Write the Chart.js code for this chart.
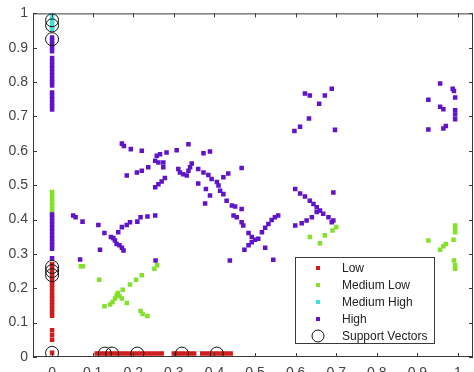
<!DOCTYPE html>
<html>
<head>
<meta charset="utf-8">
<script src="https://cdn.jsdelivr.net/npm/chart.js@4"></script>
<style>
  body { margin: 0; overflow: hidden; background: #fff; }
</style>
</head>
<body>
<canvas id="svmChart" width="474" height="390"></canvas>
<script>
// tick labels
const xTickVals = [0, 0.1, 0.2, 0.3, 0.4, 0.5, 0.6, 0.7, 0.8, 0.9, 1];
const yTickVals = [0, 0.1, 0.2, 0.3, 0.4, 0.5, 0.6, 0.7, 0.8, 0.9, 1];

// classes
const classNames = ['Low', 'Medium Low', 'Medium High', 'High', 'Support Vectors'];

// points as [x, y]
const lowPts = [
    [0, 0.27], [0, 0.26], [0, 0.25], [0, 0.24], [0, 0.23], [0, 0.22], [0, 0.21], [0, 0.2],
    [0, 0.19], [0, 0.18], [0, 0.17], [0, 0.16], [0, 0.15], [0, 0.14], [0, 0.13], [0, 0.12],
    [0, 0.078], [0, 0.064], [0, 0.05], [0, 0.012],
    [0.11, 0.01], [0.12, 0.01], [0.13, 0.01], [0.14, 0.01], [0.15, 0.01], [0.16, 0.01],
    [0.17, 0.01], [0.18, 0.01], [0.19, 0.01], [0.2, 0.01], [0.21, 0.01], [0.22, 0.01],
    [0.23, 0.01], [0.24, 0.01], [0.25, 0.01], [0.26, 0.01], [0.27, 0.01],
    [0.3, 0.01], [0.31, 0.01], [0.32, 0.01], [0.33, 0.01], [0.34, 0.01], [0.35, 0.01],
    [0.37, 0.01], [0.38, 0.01], [0.39, 0.01], [0.4, 0.01], [0.41, 0.01], [0.42, 0.01],
    [0.43, 0.01], [0.44, 0.01],
];

const medLowPts = [
    [0, 0.48], [0, 0.47], [0, 0.46], [0, 0.45], [0, 0.44], [0, 0.43], [0, 0.42],
    [0.071, 0.264], [0.076, 0.264],
    [0.116, 0.225], [0.129, 0.148], [0.143, 0.153], [0.149, 0.16], [0.155, 0.17],
    [0.159, 0.18], [0.162, 0.186], [0.166, 0.177], [0.172, 0.17], [0.184, 0.157],
    [0.174, 0.196], [0.192, 0.211], [0.207, 0.225], [0.221, 0.238], [0.252, 0.257],
    [0.259, 0.267], [0.218, 0.134], [0.223, 0.125], [0.235, 0.119],
    [0.635, 0.349], [0.66, 0.331], [0.672, 0.354], [0.691, 0.368], [0.7, 0.378],
    [0.927, 0.339], [0.956, 0.312], [0.964, 0.322], [0.97, 0.329], [0.989, 0.341],
    [0.993, 0.363], [0.993, 0.374], [0.993, 0.383], [0.99, 0.281], [0.993, 0.267], [0.993, 0.257],
];

const medHighPts = [
    [0, 1.0], [0, 0.99], [0, 0.98], [0, 0.97], [0, 0.96], [0, 0.955],
];

const highPts = [
    // column at x = 0
    [0, 0.93], [0, 0.92], [0, 0.91], [0, 0.9], [0, 0.89], [0, 0.87], [0, 0.86], [0, 0.85],
    [0, 0.84], [0, 0.83], [0, 0.82], [0, 0.81], [0, 0.8], [0, 0.79], [0, 0.77], [0, 0.76],
    [0, 0.75], [0, 0.74], [0, 0.73], [0, 0.72],
    [0, 0.415], [0, 0.405], [0, 0.395], [0, 0.385], [0, 0.375], [0, 0.365], [0, 0.355],
    [0, 0.345], [0, 0.335], [0, 0.325], [0, 0.315], [0, 0.287],
    // left cross
    [0.052, 0.412], [0.058, 0.407], [0.075, 0.394], [0.069, 0.284],
    [0.114, 0.384], [0.129, 0.361], [0.145, 0.349], [0.151, 0.346], [0.155, 0.339],
    [0.159, 0.329], [0.166, 0.325], [0.172, 0.318], [0.176, 0.31], [0.118, 0.312],
    [0.163, 0.363], [0.172, 0.378], [0.184, 0.384], [0.192, 0.392], [0.21, 0.394],
    [0.218, 0.407], [0.235, 0.409], [0.254, 0.412], [0.255, 0.281],
    // upper arc
    [0.172, 0.621], [0.177, 0.614], [0.194, 0.605], [0.221, 0.6], [0.184, 0.528],
    [0.209, 0.537], [0.221, 0.542], [0.237, 0.552], [0.258, 0.586], [0.266, 0.59],
    [0.254, 0.571], [0.262, 0.566], [0.274, 0.566], [0.274, 0.552], [0.282, 0.595],
    [0.307, 0.602], [0.336, 0.619], [0.373, 0.593], [0.389, 0.598],
    [0.254, 0.494], [0.262, 0.503], [0.27, 0.511], [0.278, 0.521],
    [0.311, 0.547], [0.315, 0.537], [0.323, 0.532], [0.332, 0.528], [0.336, 0.542],
    [0.344, 0.563], [0.34, 0.552], [0.36, 0.547], [0.373, 0.537], [0.385, 0.53],
    [0.393, 0.518], [0.406, 0.509], [0.41, 0.499], [0.414, 0.484], [0.422, 0.474],
    [0.43, 0.455], [0.443, 0.441], [0.451, 0.438], [0.467, 0.431],
    [0.422, 0.523], [0.434, 0.534], [0.467, 0.55],
    [0.36, 0.505], [0.379, 0.489], [0.389, 0.47], [0.377, 0.447],
    [0.447, 0.412], [0.455, 0.407], [0.467, 0.392], [0.471, 0.383], [0.438, 0.281],
    // middle cross
    [0.484, 0.361], [0.492, 0.349], [0.5, 0.341], [0.508, 0.344], [0.492, 0.334],
    [0.484, 0.325], [0.474, 0.312], [0.517, 0.363], [0.525, 0.376], [0.533, 0.387],
    [0.541, 0.399], [0.549, 0.407], [0.557, 0.412], [0.525, 0.318], [0.545, 0.283],
    // right cross
    [0.599, 0.489], [0.611, 0.476], [0.623, 0.467], [0.635, 0.455], [0.644, 0.445],
    [0.652, 0.436], [0.66, 0.426], [0.668, 0.417], [0.681, 0.407], [0.693, 0.397],
    [0.652, 0.422], [0.64, 0.407], [0.627, 0.397], [0.615, 0.389], [0.599, 0.383],
    [0.693, 0.479], [0.689, 0.392],
    // upper right
    [0.623, 0.767], [0.635, 0.761], [0.672, 0.761], [0.689, 0.781], [0.658, 0.737],
    [0.633, 0.694], [0.611, 0.67], [0.597, 0.658], [0.697, 0.661],
    // far right
    [0.956, 0.796], [0.987, 0.781], [0.99, 0.774], [0.993, 0.755], [0.927, 0.749],
    [0.956, 0.728], [0.964, 0.721], [0.993, 0.718], [0.993, 0.706], [0.993, 0.692],
    [0.927, 0.662], [0.964, 0.665], [0.97, 0.672],
];

const supportPts = [
    [0, 0.98], [0, 0.965], [0, 0.925], [0, 0.262], [0, 0.25], [0, 0.238], [0, 0.012],
    [0.13, 0.01], [0.148, 0.01], [0.21, 0.01], [0.32, 0.01], [0.406, 0.01],
];

const colors = ['#d01c1c', '#84e02a', '#3fe0d8', '#6014c8', '#111111'];

const toXY = pts => pts.map(p => ({ x: p[0], y: p[1] }));

// frame with inward ticks, like the original figure
const framePlugin = {
    id: 'frame',
    afterDatasetsDraw(chart) {
        const ctx = chart.ctx;
        const { left, right, top, bottom } = chart.chartArea;
        const xs = chart.scales.x, ys = chart.scales.y;
        ctx.save();
        ctx.strokeStyle = '#3a3a3a';
        ctx.lineWidth = 1;
        ctx.strokeRect(left + 0.5, top + 0.5, right - left - 1, bottom - top - 1);
        ctx.beginPath();
        xTickVals.forEach(v => {
            const px = Math.round(xs.getPixelForValue(v)) + 0.5;
            ctx.moveTo(px, bottom); ctx.lineTo(px, bottom - 4);
            ctx.moveTo(px, top); ctx.lineTo(px, top + 4);
        });
        yTickVals.forEach(v => {
            const py = Math.round(ys.getPixelForValue(v)) + 0.5;
            ctx.moveTo(left, py); ctx.lineTo(left + 4, py);
            ctx.moveTo(right, py); ctx.lineTo(right - 4, py);
        });
        ctx.stroke();
        ctx.restore();
    },
    afterDraw(chart) {
        // legend box in the lower right corner of the axes
        const ctx = chart.ctx;
        const { right, bottom } = chart.chartArea;
        const bx = right - 178, by = bottom - 100, bw = 139, bh = 86;
        ctx.save();
        ctx.fillStyle = '#fff';
        ctx.fillRect(bx, by, bw, bh);
        ctx.strokeStyle = '#3a3a3a';
        ctx.lineWidth = 1;
        ctx.strokeRect(bx + 0.5, by + 0.5, bw, bh);
        ctx.font = '12px "Liberation Sans", Arial, sans-serif';
        ctx.textBaseline = 'middle';
        classNames.forEach((name, i) => {
            const cy = by + 11 + i * 17;
            const mx = bx + 23;
            if (i < 4) {
                ctx.fillStyle = colors[i];
                ctx.fillRect(mx - 2, cy - 2, 4, 4);
            } else {
                ctx.strokeStyle = '#111';
                ctx.beginPath();
                ctx.arc(mx, cy, 6, 0, Math.PI * 2);
                ctx.stroke();
            }
            ctx.fillStyle = '#222';
            ctx.fillText(name, bx + 47, cy + 1);
        });
        ctx.restore();
    },
};

const ctx = document.querySelector('#svmChart');

const pointSet = (label, pts, i) => ({
    label: label,
    data: toXY(pts),
    pointStyle: 'rect',
    pointRadius: 3.2,
    pointHoverRadius: 3.2,
    borderWidth: 0,
    backgroundColor: colors[i],
    borderColor: colors[i],
    order: 5 - i,
});

const svmChart = new Chart(ctx, {
    type: 'scatter',
    data: {
        datasets: [
            pointSet(classNames[0], lowPts, 0),
            pointSet(classNames[1], medLowPts, 1),
            pointSet(classNames[2], medHighPts, 2),
            pointSet(classNames[3], highPts, 3),
            {
                label: classNames[4],
                data: toXY(supportPts),
                pointStyle: 'circle',
                pointRadius: 6.5,
                pointHoverRadius: 6.5,
                borderWidth: 1,
                backgroundColor: 'rgba(0,0,0,0)',
                borderColor: '#111',
                order: 0,
            },
        ],
    },
    options: {
        responsive: false,
        animation: false,
        layout: { autoPadding: false, padding: { top: 12, right: 1, left: 0, bottom: 0 } },
        plugins: {
            legend: { display: false },
            tooltip: { enabled: false },
        },
        scales: {
            x: {
                type: 'linear',
                min: -0.047,
                max: 1.037,
                afterBuildTicks: s => { s.ticks = xTickVals.map(v => ({ value: v })); },
                afterFit: s => { s.height = 33; s.paddingRight = 0; s.paddingLeft = 0; },
                grid: { display: false, drawTicks: false },
                border: { display: false },
                ticks: {
                    padding: 8,
                    color: '#444',
                    font: { family: '"Liberation Sans", Arial, sans-serif', size: 14 },
                    callback: v => String(v),
                },
            },
            y: {
                type: 'linear',
                min: 0,
                max: 1,
                afterBuildTicks: s => { s.ticks = yTickVals.map(v => ({ value: v })); },
                afterFit: s => { s.width = 33; },
                grid: { display: false, drawTicks: false },
                border: { display: false },
                ticks: {
                    padding: 5,
                    color: '#444',
                    font: { family: '"Liberation Sans", Arial, sans-serif', size: 14 },
                    callback: v => String(v),
                },
            },
        },
    },
    plugins: [framePlugin],
});
</script>
</body>
</html>
